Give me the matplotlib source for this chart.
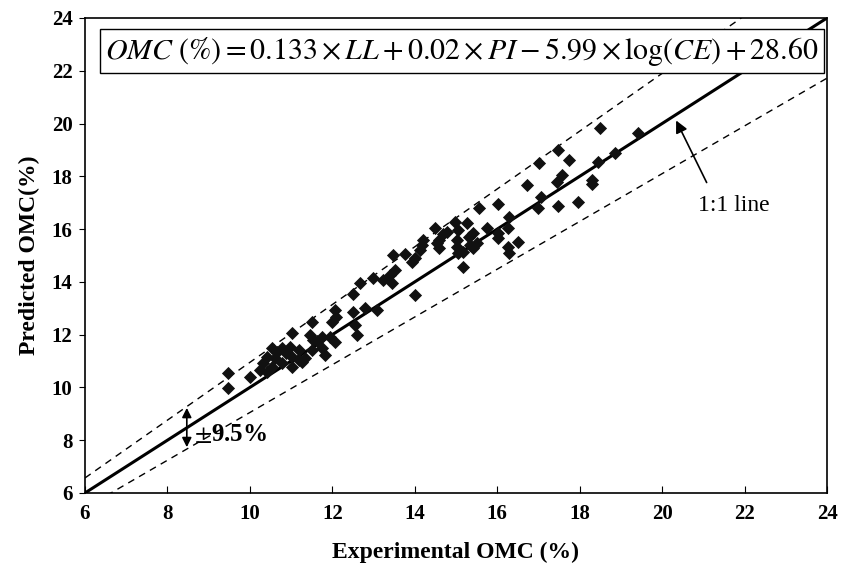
import numpy as np
import matplotlib
matplotlib.use('Agg')
import matplotlib.pyplot as plt

plt.rcParams['font.family'] = ['Liberation Serif', 'DejaVu Serif']
plt.rcParams['mathtext.fontset'] = 'stix'

# experimental vs predicted OMC (%)
exp_omc = [9.47, 9.47, 10.00, 10.25, 10.41, 10.32, 10.54, 10.78, 11.02, 11.27,
           10.41, 10.61, 11.02, 11.18, 11.34, 10.54, 10.78, 10.97, 11.18, 11.51,
           11.75, 11.83, 11.02, 11.45, 11.53, 11.75, 11.94, 12.06, 11.51, 11.99,
           12.10, 12.06, 12.60, 12.55, 12.50, 12.80, 13.09, 12.50, 12.98, 13.23,
           13.45, 13.40, 13.52, 14.00, 13.93, 14.00, 14.13, 13.47, 14.20, 14.54,
           14.49, 14.98, 15.26, 15.05, 15.41, 15.03, 15.03, 15.34, 15.51, 15.05,
           15.17, 15.17, 15.56, 16.02, 16.29, 15.75, 16.02, 16.27, 16.02, 16.50,
           16.27, 16.29, 15.31, 15.41, 16.72, 17.06, 16.99, 17.47, 17.96, 17.45,
           17.58, 18.30, 18.30, 17.01, 17.47, 17.74, 18.44, 18.86, 18.50, 19.42,
           14.17, 14.58, 14.79, 14.58, 14.69, 10.87, 10.66, 11.64, 12.67, 13.76]
pred_omc = [10.55, 9.98, 10.40, 10.66, 10.59, 10.93, 10.78, 10.93, 10.78, 10.96,
            11.15, 11.12, 11.15, 11.04, 11.12, 11.50, 11.50, 11.53, 11.42, 11.42,
            11.50, 11.23, 12.06, 11.99, 11.80, 11.91, 11.91, 11.72, 12.48, 12.48,
            12.67, 12.94, 11.99, 12.37, 12.86, 13.01, 12.94, 13.54, 14.15, 14.07,
            13.96, 14.26, 14.45, 13.50, 14.75, 14.90, 15.20, 15.02, 15.59, 15.47,
            16.04, 16.27, 16.23, 15.97, 15.85, 15.59, 15.32, 15.40, 15.47, 15.10,
            15.13, 14.56, 16.80, 16.95, 16.46, 16.04, 15.85, 16.04, 15.66, 15.50,
            15.32, 15.10, 15.70, 15.30, 17.67, 17.20, 16.80, 16.88, 17.03, 17.80,
            18.05, 17.86, 17.70, 18.50, 19.00, 18.60, 18.54, 18.88, 19.83, 19.64,
            15.40, 15.60, 15.90, 15.30, 15.80, 11.30, 11.35, 11.75, 13.95, 15.05]

band = 0.095
ticks = [6, 8, 10, 12, 14, 16, 18, 20, 22, 24]

fig = plt.figure(figsize=(8.49, 5.69), dpi=100)
ax = fig.add_axes([0.1001, 0.1336, 0.874, 0.8348])

xx = np.array([6, 24])
ax.plot(xx, xx, color='black', lw=2.2, zorder=3)
ax.plot(xx, xx * (1 + band), color='black', lw=1, dashes=(5, 4))
ax.plot(xx, xx * (1 - band), color='black', lw=1, dashes=(5, 4))

ax.scatter(exp_omc, pred_omc, marker='D', s=45, color='#111111', linewidths=0, zorder=4)

ax.set_xlim(6, 24)
ax.set_ylim(6, 24)
ax.set_xticks(ticks)
ax.set_yticks(ticks)
ax.tick_params(axis='x', direction='in', length=5, labelsize=15, pad=8)
ax.tick_params(axis='y', direction='out', length=4, labelsize=15, pad=5)
for lab in ax.get_xticklabels() + ax.get_yticklabels():
    lab.set_fontweight('bold')
for s in ax.spines.values():
    s.set_linewidth(1.2)

ax.set_xlabel('Experimental OMC (%)', fontsize=17, fontweight='bold', labelpad=13)
ax.set_ylabel('Predicted OMC(%)', fontsize=17, fontweight='bold', labelpad=8)

ax.text(0.508, 0.93,
        r'$OMC\ (\%) = 0.133\times LL + 0.02\times PI - 5.99\times \log(CE) + 28.60$',
        transform=ax.transAxes, ha='center', va='center', fontsize=21.5,
        bbox=dict(boxstyle='square,pad=0.18', fc='white', ec='black', lw=1), zorder=5)

ax.annotate('', xy=(20.31, 20.21), xytext=(21.11, 17.67),
            arrowprops=dict(arrowstyle='-|>', color='black', lw=1.2, mutation_scale=18))
ax.text(20.87, 16.91, '1:1 line', fontsize=17, ha='left', va='center')

ax.annotate('', xy=(8.47, 9.33), xytext=(8.47, 7.63),
            arrowprops=dict(arrowstyle='<|-|>', color='black', lw=1.2, mutation_scale=14))
ax.text(8.64, 8.2, r'$\pm$9.5%', fontsize=18, fontweight='bold', ha='left', va='center')

fig.savefig('out.png', dpi=100)
